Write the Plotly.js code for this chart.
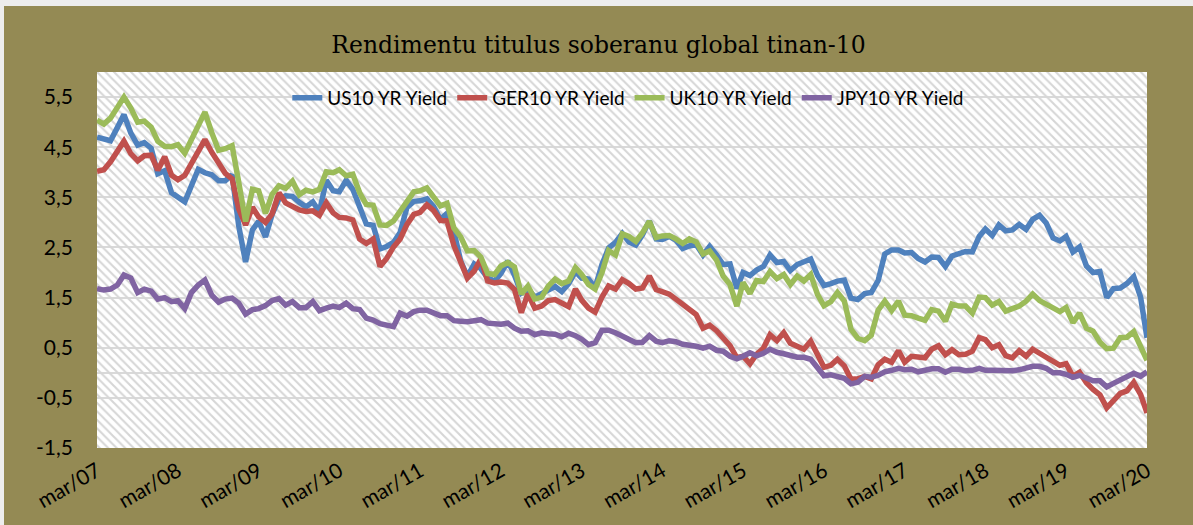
<!DOCTYPE html>
<html><head><meta charset="utf-8">
<script src="https://cdn.plot.ly/plotly-3.0.1.min.js"></script>
<style>
html,body{margin:0;padding:0;background:#ededed;overflow:hidden;}
#chart{position:absolute;left:4px;top:6px;width:1189px;height:519px;}
</style></head><body>
<div id="chart"></div>
<script>
// Readings roughly on the 9th of each month, Mar 2007 .. Mar 2020 (157 points)
const usYield = [4.70,
 4.65,4.63,4.89,5.15,4.78,4.54,4.59,4.48,3.97,4.03,
 3.59,3.51,3.41,3.73,4.06,3.99,3.95,3.83,3.83,3.95,2.93,2.21,
 2.85,3.02,2.71,3.16,3.47,3.53,3.52,3.40,3.31,3.41,3.21,3.84,
 3.63,3.61,3.84,3.66,3.31,2.97,2.94,2.47,2.52,2.60,2.80,3.30,
 3.42,3.43,3.47,3.32,3.06,3.18,2.82,2.23,1.92,2.17,2.08,1.89,
 1.83,1.98,2.23,1.95,1.59,1.67,1.51,1.57,1.65,1.72,1.62,1.78,
 2.02,1.89,1.87,1.70,2.16,2.49,2.60,2.78,2.61,2.55,2.75,3.03,
 2.67,2.66,2.72,2.65,2.48,2.53,2.56,2.35,2.52,2.35,2.16,2.17,
 1.68,2.00,1.94,2.05,2.12,2.35,2.20,2.22,2.04,2.16,2.21,2.27,
 1.94,1.74,1.78,1.83,1.85,1.49,1.46,1.58,1.60,1.84,2.37,2.45,
 2.45,2.39,2.40,2.28,2.21,2.31,2.30,2.12,2.33,2.38,2.42,2.41,
 2.72,2.87,2.74,2.95,2.83,2.85,2.96,2.86,3.06,3.14,2.99,2.69,
 2.63,2.72,2.41,2.51,2.13,2.00,2.02,1.50,1.68,1.69,1.78,1.92,
 1.51,0.70];
const gerYield = [4.02,
 4.05,4.21,4.41,4.62,4.37,4.23,4.33,4.34,4.04,4.31,
 3.94,3.85,3.94,4.18,4.40,4.65,4.40,4.18,3.98,3.87,3.27,2.95,
 3.30,3.11,3.00,3.17,3.59,3.39,3.32,3.25,3.22,3.23,3.14,3.39,
 3.19,3.10,3.09,3.05,2.67,2.58,2.67,2.12,2.28,2.51,2.67,2.96,
 3.16,3.20,3.35,3.24,3.04,3.03,2.54,2.22,1.89,2.03,2.27,1.83,
 1.79,1.81,1.79,1.66,1.20,1.58,1.29,1.33,1.44,1.46,1.39,1.32,
 1.67,1.45,1.29,1.21,1.51,1.73,1.67,1.86,1.78,1.67,1.69,1.93,
 1.66,1.62,1.57,1.47,1.36,1.25,1.16,0.89,0.95,0.84,0.70,0.54,
 0.30,0.33,0.18,0.37,0.49,0.76,0.64,0.80,0.59,0.52,0.47,0.63,
 0.33,0.11,0.15,0.27,0.14,-0.13,-0.12,-0.07,-0.12,0.16,0.27,0.21,
 0.44,0.21,0.33,0.32,0.30,0.47,0.54,0.36,0.46,0.36,0.37,0.43,
 0.70,0.66,0.50,0.56,0.34,0.30,0.44,0.33,0.47,0.39,0.31,0.24,
 0.15,0.18,-0.07,0.01,-0.20,-0.33,-0.44,-0.70,-0.57,-0.41,-0.36,-0.19,
 -0.43,-0.80];
const ukYield = [5.04,
 4.96,5.08,5.29,5.50,5.28,5.00,5.02,4.90,4.62,4.52,
 4.51,4.55,4.38,4.65,4.95,5.20,4.79,4.44,4.47,4.53,3.80,3.02,
 3.66,3.63,3.18,3.56,3.73,3.68,3.82,3.55,3.64,3.61,3.66,4.01,
 3.99,4.05,3.93,3.96,3.59,3.36,3.34,2.95,2.94,3.03,3.22,3.40,
 3.61,3.63,3.69,3.51,3.33,3.38,2.89,2.71,2.43,2.44,2.31,1.98,
 1.96,2.13,2.20,2.11,1.57,1.73,1.47,1.51,1.73,1.87,1.78,1.83,
 2.10,1.96,1.76,1.67,2.00,2.44,2.35,2.77,2.72,2.62,2.79,3.02,
 2.70,2.73,2.74,2.67,2.58,2.67,2.61,2.37,2.43,2.25,1.93,1.76,
 1.33,1.80,1.58,1.84,1.82,2.02,1.88,1.96,1.76,1.93,1.83,1.96,
 1.56,1.34,1.42,1.60,1.43,0.87,0.69,0.64,0.75,1.25,1.43,1.24,
 1.43,1.15,1.14,1.09,1.05,1.26,1.23,1.03,1.37,1.33,1.33,1.19,
 1.51,1.50,1.35,1.42,1.23,1.28,1.33,1.43,1.57,1.44,1.36,1.28,
 1.22,1.30,1.00,1.19,0.89,0.83,0.61,0.48,0.49,0.70,0.71,0.82,
 0.52,0.25];
const jpyYield = [1.68,
 1.65,1.67,1.75,1.95,1.89,1.60,1.67,1.63,1.47,1.50,
 1.42,1.44,1.28,1.60,1.75,1.85,1.55,1.41,1.47,1.49,1.39,1.17,
 1.26,1.28,1.34,1.44,1.48,1.35,1.42,1.30,1.30,1.42,1.24,1.29,
 1.33,1.30,1.39,1.28,1.26,1.09,1.05,0.98,0.94,0.92,1.19,1.13,
 1.22,1.25,1.25,1.20,1.14,1.14,1.04,1.03,1.02,1.04,1.06,0.99,
 0.97,0.97,0.99,0.89,0.83,0.84,0.76,0.80,0.78,0.77,0.72,0.79,
 0.74,0.67,0.56,0.60,0.85,0.85,0.80,0.73,0.68,0.60,0.61,0.74,
 0.63,0.60,0.64,0.62,0.57,0.56,0.53,0.49,0.53,0.45,0.43,0.33,
 0.28,0.33,0.40,0.34,0.39,0.47,0.41,0.38,0.35,0.31,0.31,0.27,
 0.10,-0.06,-0.04,-0.08,-0.11,-0.22,-0.19,-0.07,-0.09,-0.05,0.02,0.05,
 0.09,0.06,0.07,0.02,0.05,0.08,0.08,0.01,0.07,0.07,0.04,0.05,
 0.09,0.05,0.05,0.05,0.03,0.04,0.06,0.11,0.13,0.13,0.09,0.00,
 0.00,-0.03,-0.09,-0.05,-0.10,-0.16,-0.16,-0.28,-0.21,-0.14,-0.07,-0.01,
 -0.07,0.02];
const seriesNames = ['US10 YR Yield','GER10 YR Yield','UK10 YR Yield','JPY10 YR Yield'];
const tickLabels = ['mar/07','mar/08','mar/09','mar/10','mar/11','mar/12','mar/13','mar/14','mar/15','mar/16','mar/17','mar/18','mar/19','mar/20'];
const yTickVals = [-1.5,-0.5,0.5,1.5,2.5,3.5,4.5,5.5];
const titleText = 'Rendimentu titulus soberanu global tinan-10';

// date axis: 9th of each month
const dates = [];
for (let i = 0; i < usYield.length; i++) {
  const y = 2007 + Math.floor((2 + i) / 12);
  const m = (2 + i) % 12 + 1;
  dates.push(y + '-' + String(m).padStart(2,'0') + '-09');
}
const tickVals = tickLabels.map((t,i) => (2007 + i) + '-03-09');
const xStart = dates[0], xEnd = dates[dates.length-1];
const yMin = -1.5, yMax = 6;

const colors = ['#4F81BD','#C0504D','#9BBB59','#8064A2'];
const vals = [usYield, gerYield, ukYield, jpyYield];

const traces = [{
  x:[xStart,xEnd,xEnd,xStart,xStart], y:[yMin,yMin,yMax,yMax,yMin],
  type:'scatter', mode:'none', fill:'toself', fillcolor:'rgba(0,0,0,0)',
  fillpattern:{shape:'\\', fgcolor:'#d6d6d6', bgcolor:'rgba(0,0,0,0)', size:6, solidity:0.35},
  hoverinfo:'skip', showlegend:false
}];
vals.forEach((v,i) => traces.push({
  x:dates, y:v, type:'scatter', mode:'lines', name:seriesNames[i],
  line:{color:colors[i], width:5.5}
}));

const font = 'Lato, "Open Sans", sans-serif';
const layout = {
  width:1189, height:519,
  paper_bgcolor:'#948A54', plot_bgcolor:'#ffffff',
  margin:{l:93, r:46, t:66, b:77},
  title:{text:titleText, font:{family:'"DejaVu Serif", serif', size:23.5, color:'#000'},
         x:0.5, xanchor:'center', xref:'container', y:1-39/519, yanchor:'middle', yref:'container'},
  xaxis:{type:'date', range:[xStart,xEnd], tickvals:tickVals, ticktext:tickLabels, tickangle:-30,
         showgrid:false, zeroline:false, showline:false, ticks:'',
         tickfont:{family:font, size:21, color:'#000'}, ticklabelstandoff:6},
  yaxis:{range:[yMin,yMax], tickvals:yTickVals, ticktext:yTickVals.map(v=>v.toFixed(1).replace('.',',')),
         showgrid:true, gridcolor:'#d9d9d9', gridwidth:2, zeroline:true, zerolinecolor:'#d9d9d9', zerolinewidth:2,
         showline:false, ticks:'', tickfont:{family:font, size:21, color:'#000'}, ticklabelstandoff:23},
  legend:{orientation:'h', x:0.506, xanchor:'center', y:0.931, yanchor:'middle', bgcolor:'rgba(0,0,0,0)',
          font:{family:font, size:19, color:'#000'}},
  showlegend:true
};
Plotly.newPlot('chart', traces, layout, {staticPlot:true, displayModeBar:false});
</script>
</body></html>
